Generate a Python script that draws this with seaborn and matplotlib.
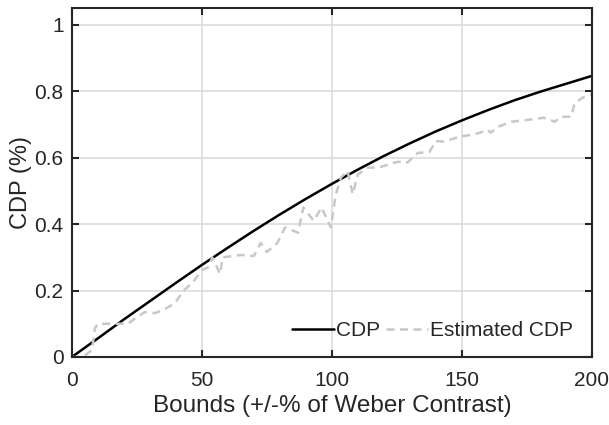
import numpy as np
import pandas as pd
import matplotlib
matplotlib.use("Agg")
import matplotlib.pyplot as plt
import seaborn as sns

# Theoretical CDP curve
cdp_x = [0, 10, 20, 30, 40, 50, 60, 70, 80, 90, 100, 110, 120, 130, 140, 150, 160, 170, 180, 190, 200]
cdp_y = [0, 0.056, 0.113, 0.168, 0.223, 0.277, 0.329, 0.380, 0.429, 0.476, 0.521,
         0.564, 0.605, 0.643, 0.679, 0.712, 0.743, 0.772, 0.798, 0.822, 0.846]

# Estimated CDP
est_x = [0, 4, 7.7, 8.9, 10, 14, 18, 21.6, 25, 28, 32, 36, 38.6, 40, 43, 46.7, 50, 52.5, 54, 57, 58,
         65, 70, 72.6, 75, 79, 82, 87, 89, 93, 96, 99.6, 101.5, 103.5, 106, 108, 110, 114, 118,
         124, 128, 129, 133, 137.5, 140, 143, 149, 154, 157, 160, 161, 164, 169, 175.7, 181.5,
         185.7, 188, 192, 193.4, 197, 200]
est_y = [0, 0, 0.02, 0.087, 0.10, 0.10, 0.10, 0.10, 0.12, 0.135, 0.132, 0.145, 0.157, 0.166, 0.20,
         0.226, 0.262, 0.27, 0.30, 0.25, 0.30, 0.307, 0.304, 0.343, 0.316, 0.343, 0.39, 0.374,
         0.45, 0.41, 0.45, 0.39, 0.49, 0.54, 0.56, 0.49, 0.55, 0.57, 0.57, 0.585, 0.59, 0.585,
         0.614, 0.617, 0.65, 0.648, 0.663, 0.669, 0.675, 0.684, 0.675, 0.693, 0.708, 0.714, 0.72,
         0.708, 0.723, 0.723, 0.765, 0.783, 0.79]

x_ticks = [0, 50, 100, 150, 200]
y_ticks = [0, 0.2, 0.4, 0.6, 0.8, 1]
y_tick_labels = ["0", "0.2", "0.4", "0.6", "0.8", "1"]

sns.set_style("white")
plt.rcParams['font.family'] = ['Liberation Sans', 'DejaVu Sans']

fig = plt.figure(figsize=(6.09, 4.25), dpi=100)
ax = fig.add_axes([0.118, 0.16, 0.854, 0.821])

df_cdp = pd.DataFrame({"x": cdp_x, "y": cdp_y})
df_est = pd.DataFrame({"x": est_x, "y": est_y})

sns.lineplot(data=df_cdp, x="x", y="y", ax=ax, color="black", linewidth=1.8, label="CDP",
             estimator=None, sort=False)
sns.lineplot(data=df_est, x="x", y="y", ax=ax, color="#c8c8c8", linewidth=1.8,
             dashes=False, label="Estimated CDP", estimator=None, sort=False)
ax.lines[1].set_linestyle((0, (3.2, 2.2)))

ax.set_xlim(0, 200)
ax.set_ylim(0, 1.05)
ax.set_xticks(x_ticks)
ax.set_xticklabels([str(t) for t in x_ticks])
ax.set_yticks(y_ticks)
ax.set_yticklabels(y_tick_labels)
ax.grid(True, color="#dcdcdc", linewidth=1.2)
ax.set_axisbelow(True)
for s in ax.spines.values():
    s.set_color("#262626")
    s.set_linewidth(1.5)
    s.set_visible(True)
ax.tick_params(direction="in", length=5, width=1.5, color="#262626", labelsize=15,
               labelcolor="#262626", top=True, right=True, bottom=True, left=True,
               labeltop=False, labelright=False)
ax.tick_params(axis="x", pad=10)
ax.tick_params(axis="y", pad=6)
ax.set_xlabel("Bounds (+/-% of Weber Contrast)", fontsize=17.5, color="#262626", labelpad=4)
ax.set_ylabel("CDP (%)", fontsize=17, color="#262626", labelpad=2)

leg = ax.legend(loc="lower right", ncol=2, frameon=False, fontsize=15,
                handlelength=2.0, handletextpad=0.1, columnspacing=0.3,
                bbox_to_anchor=(1.0, -0.005))

fig.savefig("out.png", dpi=100)
